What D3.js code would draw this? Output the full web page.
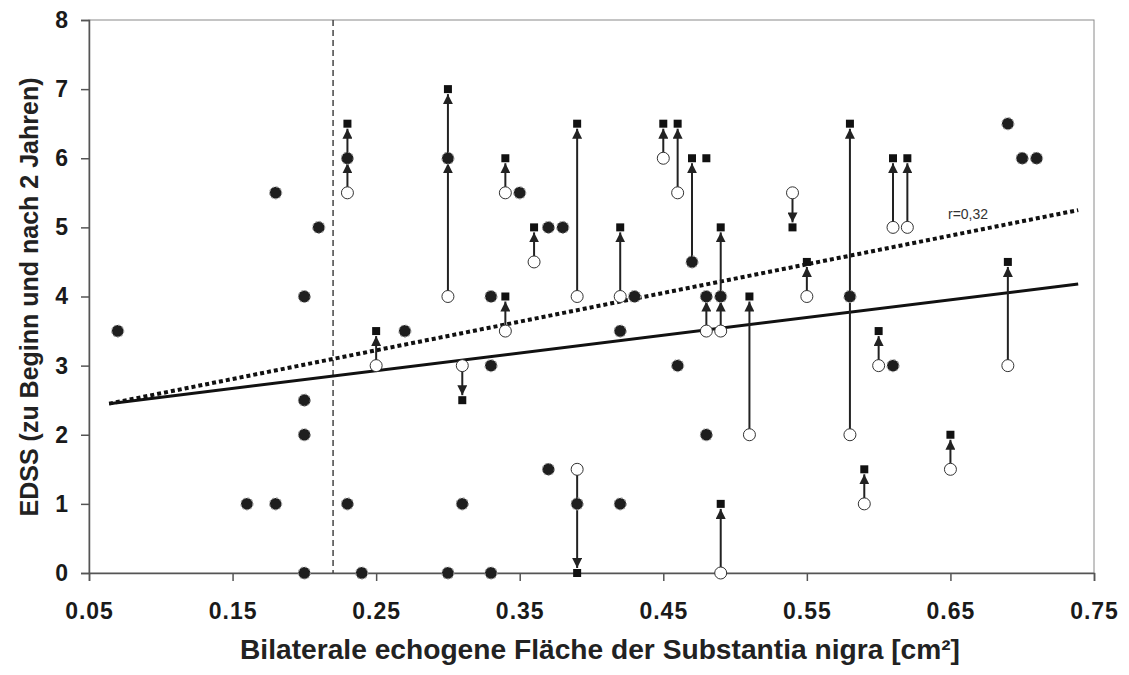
<!DOCTYPE html>
<html>
<head>
<meta charset="utf-8">
<style>
  body { margin: 0; background: #fff; }
  svg { display: block; font-family: "Liberation Sans", Arial, sans-serif; }
</style>
</head>
<body>
<svg id="container" width="1129" height="675"></svg>

<script src="https://d3js.org/d3.v7.min.js"></script>
<script>
  // EDSS at baseline and after 2 years vs. echogenic SN area

  // unchanged patients (filled circles)
  const samePts = [
    [0.07, 3.5], [0.16, 1], [0.18, 1], [0.18, 5.5], [0.20, 4], [0.20, 2.5], [0.20, 2], [0.20, 0],
    [0.21, 5], [0.23, 6], [0.23, 1], [0.24, 0], [0.27, 3.5], [0.30, 6], [0.30, 0], [0.31, 1],
    [0.33, 4], [0.33, 3], [0.33, 0], [0.35, 5.5], [0.37, 5], [0.37, 1.5], [0.38, 5], [0.39, 1],
    [0.42, 3.5], [0.42, 1], [0.43, 4], [0.46, 3], [0.47, 4.5], [0.48, 4], [0.48, 2], [0.49, 4],
    [0.58, 4], [0.61, 3], [0.69, 6.5], [0.70, 6], [0.71, 6]
  ]
  // baseline values (open circles)
  const startPts = [
    [0.23, 5.5], [0.25, 3], [0.30, 4], [0.31, 3], [0.34, 5.5], [0.34, 3.5], [0.36, 4.5], [0.39, 4],
    [0.39, 1.5], [0.42, 4], [0.45, 6], [0.46, 5.5], [0.48, 3.5], [0.49, 3.5], [0.49, 0], [0.51, 2],
    [0.54, 5.5], [0.55, 4], [0.58, 2], [0.59, 1], [0.60, 3], [0.61, 5], [0.62, 5], [0.65, 1.5], [0.69, 3]
  ]
  // values after 2 years (squares)
  const endPts = [
    [0.23, 6.5], [0.25, 3.5], [0.30, 7], [0.31, 2.5], [0.34, 6], [0.34, 4], [0.36, 5], [0.39, 6.5],
    [0.39, 0], [0.42, 5], [0.45, 6.5], [0.46, 6.5], [0.47, 6], [0.48, 6], [0.49, 5], [0.49, 1],
    [0.51, 4], [0.54, 5], [0.55, 4.5], [0.58, 6.5], [0.59, 1.5], [0.60, 3.5], [0.61, 6], [0.62, 6],
    [0.65, 2], [0.69, 4.5]
  ]
  // arrows: [x, from, to]
  const arrows = [
    [0.23, 5.5, 6], [0.23, 6, 6.5], [0.25, 3, 3.5], [0.30, 4, 6], [0.30, 6, 7], [0.31, 3, 2.5],
    [0.34, 5.5, 6], [0.34, 3.5, 4], [0.36, 4.5, 5], [0.39, 4, 6.5], [0.39, 1.5, 0], [0.42, 4, 5],
    [0.45, 6, 6.5], [0.46, 5.5, 6.5], [0.47, 4.5, 6], [0.48, 3.5, 4], [0.49, 3.5, 4], [0.49, 4, 5],
    [0.49, 0, 1], [0.51, 2, 4], [0.54, 5.5, 5], [0.55, 4, 4.5], [0.58, 2, 6.5], [0.59, 1, 1.5],
    [0.60, 3, 3.5], [0.61, 5, 6], [0.62, 5, 6], [0.65, 1.5, 2], [0.69, 3, 4.5]
  ]
  // trend lines (start, end)
  const trendBase = [[0.064, 2.45], [0.739, 4.18]]
  const trend2y = [[0.064, 2.45], [0.739, 5.25]]
  const cutoff = 0.22

  const xTicks = [0.05, 0.15, 0.25, 0.35, 0.45, 0.55, 0.65, 0.75]
  const yTicks = [0, 1, 2, 3, 4, 5, 6, 7, 8]

  const svg = d3.select('#container')

  const xScale = d3.scaleLinear().domain([0.05, 0.75]).range([89, 1094])
  const yScale = d3.scaleLinear().domain([0, 8]).range([573, 20])

  // frame
  svg.append('rect')
    .attr('x', xScale(0.05)).attr('y', yScale(8))
    .attr('width', xScale(0.75) - xScale(0.05))
    .attr('height', yScale(0) - yScale(8))
    .attr('fill', 'none').attr('stroke', '#8a8a8a').attr('stroke-width', 1)

  const xAxis = svg.append('g')
    .attr('transform', `translate(0,${yScale(0)})`)
    .call(d3.axisBottom(xScale).tickValues(xTicks).tickFormat(d3.format('.2f')).tickSize(8).tickPadding(22))
  const yAxis = svg.append('g')
    .attr('transform', `translate(${xScale(0.05)},0)`)
    .call(d3.axisLeft(yScale).tickValues(yTicks).tickSize(8).tickPadding(13))

  ;[xAxis, yAxis].forEach(g => {
    g.select('.domain').attr('stroke', '#555').attr('stroke-width', 1.5)
    g.selectAll('.tick line').attr('stroke', '#555').attr('stroke-width', 1.5)
    g.selectAll('.tick text')
      .attr('fill', '#1a1a1a')
      .style('font-size', '23px')
      .style('font-weight', 'bold')
      .style('font-family', '"Liberation Sans", Arial, sans-serif')
  })
  xAxis.selectAll('.tick text').style('letter-spacing', '1px')

  // cut-off line
  svg.append('line')
    .attr('x1', xScale(cutoff)).attr('x2', xScale(cutoff))
    .attr('y1', yScale(8)).attr('y2', yScale(0))
    .attr('stroke', '#444').attr('stroke-width', 1.5)
    .attr('stroke-dasharray', '6,4')

  // trend lines
  const line = d3.line().x(d => xScale(d[0])).y(d => yScale(d[1]))
  svg.append('path').datum(trendBase)
    .attr('d', line).attr('fill', 'none')
    .attr('stroke', '#111').attr('stroke-width', 3)
  svg.append('path').datum(trend2y)
    .attr('d', line).attr('fill', 'none')
    .attr('stroke', '#111').attr('stroke-width', 4)
    .attr('stroke-dasharray', '4,3')

  svg.append('text')
    .attr('x', 948).attr('y', 219)
    .attr('fill', '#333')
    .style('font-size', '14px')
    .text('r=0,32')

  // arrows
  svg.append('defs').append('marker')
    .attr('id', 'head')
    .attr('viewBox', '0 0 10 10')
    .attr('refX', 10).attr('refY', 5)
    .attr('markerWidth', 10).attr('markerHeight', 10)
    .attr('markerUnits', 'userSpaceOnUse')
    .attr('orient', 'auto')
    .append('path')
    .attr('d', 'M0,0L10,5L0,10Z')
    .attr('fill', '#222')

  svg.selectAll('.arrow')
    .data(arrows)
    .enter()
    .append('line')
    .attr('class', 'arrow')
    .attr('x1', d => xScale(d[0])).attr('x2', d => xScale(d[0]))
    .attr('y1', d => yScale(d[1]) + (d[2] > d[1] ? -5 : 5))
    .attr('y2', d => yScale(d[2]) + (d[2] > d[1] ? 5 : -5))
    .attr('stroke', '#222').attr('stroke-width', 2)
    .attr('marker-end', 'url(#head)')

  // markers
  svg.selectAll('.same')
    .data(samePts)
    .enter()
    .append('circle')
    .attr('class', 'same')
    .attr('cx', d => xScale(d[0])).attr('cy', d => yScale(d[1]))
    .attr('r', 6)
    .attr('fill', '#1e1e1e')
    .attr('stroke', '#9a9a9a').attr('stroke-width', 1.2)
    .attr('stroke-dasharray', '2,2')

  svg.selectAll('.start')
    .data(startPts)
    .enter()
    .append('circle')
    .attr('class', 'start')
    .attr('cx', d => xScale(d[0])).attr('cy', d => yScale(d[1]))
    .attr('r', 6)
    .attr('fill', '#fff')
    .attr('stroke', '#333').attr('stroke-width', 1)

  svg.selectAll('.end')
    .data(endPts)
    .enter()
    .append('rect')
    .attr('class', 'end')
    .attr('x', d => xScale(d[0]) - 4).attr('y', d => yScale(d[1]) - 4)
    .attr('width', 8).attr('height', 8)
    .attr('fill', '#111')

  // axis titles
  svg.append('text')
    .attr('x', 600).attr('y', 659)
    .attr('text-anchor', 'middle')
    .attr('fill', '#222')
    .style('font-size', '27px').style('font-weight', 'bold')
    .attr('textLength', 720).attr('lengthAdjust', 'spacingAndGlyphs')
    .text('Bilaterale echogene Fläche der Substantia nigra [cm²]')

  svg.append('text')
    .attr('transform', 'translate(38,297) rotate(-90)')
    .attr('text-anchor', 'middle')
    .attr('fill', '#222')
    .style('font-size', '25px').style('font-weight', 'bold')
    .text('EDSS (zu Beginn und nach 2 Jahren)')
</script>
</body>
</html>
